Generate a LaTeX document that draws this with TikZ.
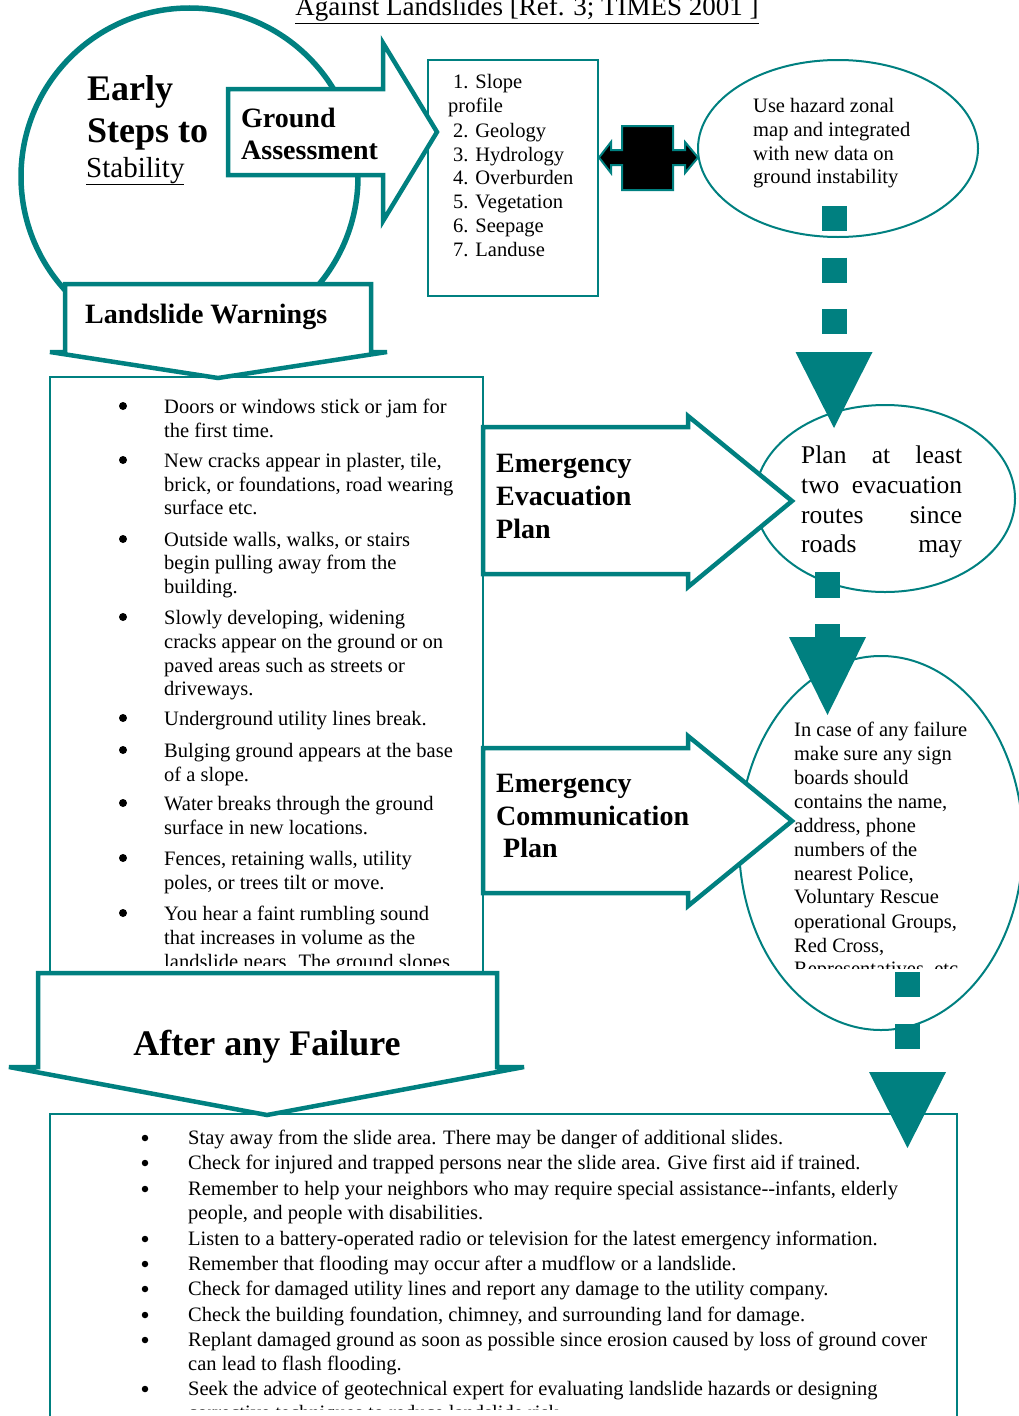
\documentclass[tikz,border=0pt]{standalone}
\usepackage{fontspec}
\setmainfont{Liberation Serif}
\usetikzlibrary{shapes.geometric,arrows.meta}
\definecolor{tealc}{RGB}{0,128,128}
\newcommand\fsBody{\fontsize{20.5}{24}\selectfont}
\newcommand\fsHead{\fontsize{28}{33}\selectfont\bfseries}
\begin{document}
\begin{tikzpicture}[x=1pt,y=-1pt,
  blockarrow/.style={draw=tealc,line width=4.5pt,fill=white,line join=miter},
  thinbox/.style={draw=tealc,line width=2pt},
  oval/.style={ellipse,draw=tealc,line width=2pt,fill=white,inner sep=0pt},
  txt/.style={anchor=base west,inner sep=0pt,font=\fsBody},
  bul/.style={circle,fill=black,inner sep=0pt,minimum size=8pt},
  bulsmall/.style={circle,fill=black,inner sep=0pt,minimum size=6.5pt},
  head/.style={anchor=base west,inner sep=0pt,font=\fsHead},
  dashconn/.style={draw=tealc,line width=25pt,
     -{Triangle[width=77pt,length=76pt,line width=0pt]}}]
\useasboundingbox (0,0) rectangle (1018,1416);

% title
\node[anchor=base,inner sep=0pt] (title) at (527,16)
  {\fontsize{27}{30}\selectfont\underline{Against Landslides [Ref. 3; TIMES 2001 ]}};

% big circle
\node[circle,draw=tealc,line width=5.5pt,minimum size=337pt,inner sep=0pt] (big) at (189.5,176.5) {};
\node[anchor=base west,inner sep=0pt,font=\fontsize{36}{40}\selectfont\bfseries] (early) at (87,100) {Early};
\node[anchor=base west,inner sep=0pt,font=\fontsize{36}{40}\selectfont\bfseries] (steps) at (87,142) {Steps to};
\node[anchor=base west,inner sep=0pt,font=\fontsize{29}{32}\selectfont] (stab) at (86,177) {\underline{Stability}};

% factors box
\draw[thinbox] (428,60) rectangle (598,296);
\node[txt] (f1) at (453,88) {1. Slope};
\node[txt] (f1b) at (448,112) {profile};
\foreach \yv/\tv [count=\i] in {137/2. Geology,161/3. Hydrology,184/4. Overburden,208/5. Vegetation,232/6. Seepage,256/7. Landuse}
  \node[txt] (f\i x) at (453,\yv) {\tv};

% ground assessment arrow
\draw[blockarrow] (228,89) -- (383,89) -- (383,43) -- (437,132) -- (383,221) -- (383,175) -- (228,175) -- cycle;
\node[head] (ground) at (241,127) {Ground};
\node[head] (assess) at (241,159) {Assessment};

% landslide warnings shape
\draw[blockarrow] (65,284) -- (371,284) -- (371,352) -- (387,352) -- (218,378) -- (50,352) -- (65,352) -- cycle;
\node[head] (lw) at (85,323) {Landslide Warnings};

% warnings list
\draw[thinbox] (50,377) rectangle (483,1000);
\begin{scope}
\clip (50,377) rectangle (483,965);
\foreach \yv/\tv [count=\i] in {
 413/{Doors or windows stick or jam for},
 437/{the first time.},
 467/{New cracks appear in plaster, tile,},
 491/{brick, or foundations, road wearing},
 514/{surface etc.},
 546/{Outside walls, walks, or stairs},
 569/{begin pulling away from the},
 593/{building.},
 624/{Slowly developing, widening},
 648/{cracks appear on the ground or on},
 672/{paved areas such as streets or},
 695/{driveways.},
 725/{Underground utility lines break.},
 757/{Bulging ground appears at the base},
 781/{of a slope.},
 810/{Water breaks through the ground},
 834/{surface in new locations.},
 865/{Fences, retaining walls, utility},
 889/{poles, or trees tilt or move.},
 920/{You hear a faint rumbling sound},
 944/{that increases in volume as the},
 968/{landslide nears. The ground slopes}}
  \node[txt] (w\i) at (164,\yv) {\tv};
\foreach \yv [count=\i] in {413,467,546,624,725,757,810,865,920}
  \node[bul] (wb\i) at (123,\yv-7) {};
\end{scope}

% ellipse 1
\node[oval,minimum width=280pt,minimum height=177pt] (e1) at (838,148.5) {};
\foreach \yv/\tv [count=\i] in {112/Use hazard zonal,136/map and integrated,160/with new data on,183/ground instability}
  \node[txt] (e1t\i) at (753,\yv) {\tv};

% black double arrow
\draw[draw=tealc,line width=2pt,fill=black,line join=miter] (599,157.5) -- (611,142) -- (611,150) -- (622,150) -- (622,126) -- (673,126) -- (673,150) -- (685,150) -- (685,142) -- (698,157.5) -- (685,173) -- (685,165) -- (673,165) -- (673,190) -- (622,190) -- (622,165) -- (611,165) -- (611,173) -- cycle;
\node[inner sep=0pt] (dbl) at (648,157.5) {};

% ellipse 2
\node[oval,minimum width=260pt,minimum height=187pt] (e2) at (885,498.5) {};
\foreach \yv/\tv [count=\i] in {463/Plan at least,493/two evacuation,523/routes since,552/roads may}
  \node[anchor=base west,inner sep=0pt,font=\fontsize{25.5}{30}\selectfont] (e2t\i) at (801,\yv) {\makebox[161pt][s]{\tv}};

% ellipse 3
\node[oval,minimum width=284pt,minimum height=374pt] (e3) at (881,843) {};
\begin{scope}
\clip (780,700) rectangle (1018,968);
\foreach \yv/\tv [count=\i] in {736/{In case of any failure},760/{make sure any sign},784/{boards should},808/{contains the name,},832/{address, phone},856/{numbers of the},880/{nearest Police,},903/{Voluntary Rescue},928/{operational Groups,},952/{Red Cross,},975/{Representatives, etc}}
  \node[txt] (e3t\i) at (794,\yv) {\tv};
\end{scope}

% evacuation arrow
\draw[blockarrow] (483,427) -- (688,427) -- (688,416) -- (792,501) -- (688,587) -- (688,574) -- (483,574) -- cycle;
\node[head] (ev1) at (496,472) {Emergency};
\node[head] (ev2) at (496,505) {Evacuation};
\node[head] (ev3) at (496,538) {Plan};

% communication arrow
\draw[blockarrow] (483,748) -- (688,748) -- (688,736) -- (792,821) -- (688,906) -- (688,893) -- (483,893) -- cycle;
\node[head] (cm1) at (496,792) {Emergency};
\node[head] (cm2) at (496,825) {Communication};
\node[head] (cm3) at (503,857) {Plan};

% bottom box
\draw[thinbox] (50,1114) rectangle (957,1440);
\begin{scope}
\clip (50,1114) rectangle (957,1409);
\foreach \yv/\tv [count=\i] in {
 1144/{Stay away from the slide area. There may be danger of additional slides.},
 1169/{Check for injured and trapped persons near the slide area. Give first aid if trained.},
 1195/{Remember to help your neighbors who may require special assistance-{}-infants, elderly},
 1219/{people, and people with disabilities.},
 1245/{Listen to a battery-operated radio or television for the latest emergency information.},
 1270/{Remember that flooding may occur after a mudflow or a landslide.},
 1295/{Check for damaged utility lines and report any damage to the utility company.},
 1321/{Check the building foundation, chimney, and surrounding land for damage.},
 1346/{Replant damaged ground as soon as possible since erosion caused by loss of ground cover},
 1370/{can lead to flash flooding.},
 1395/{Seek the advice of geotechnical expert for evaluating landslide hazards or designing},
 1419/{corrective techniques to reduce landslide risk.}}
  \node[txt] (b\i) at (188,\yv) {\tv};
\foreach \yv [count=\i] in {1144,1169,1195,1245,1270,1295,1321,1346,1395}
  \node[bulsmall] (bb\i) at (145,\yv-6) {};
\end{scope}

% after any failure shape
\draw[blockarrow] (38,973) -- (497,973) -- (497,1067) -- (524,1067) -- (267,1115) -- (9,1067) -- (38,1067) -- cycle;
\node[anchor=base,inner sep=0pt,font=\fontsize{36}{40}\selectfont\bfseries] (after) at (267,1055) {After any Failure};

% dashed connectors
\coordinate (c1s) at (834,206);
\coordinate (c1e) at (834,428);
\draw[dashconn,dash pattern=on 25pt off 26.5pt] (c1s) -- (c1e);
\coordinate (c2s) at (827.5,572);
\coordinate (c2e) at (827.5,715);
\draw[dashconn,dash pattern=on 26pt off 26pt,-{Triangle[width=77pt,length=78pt,line width=0pt]}] (c2s) -- (c2e);
\coordinate (c3s) at (907.5,972);
\coordinate (c3e) at (907.5,1148);
\draw[dashconn,dash pattern=on 25pt off 27pt] (c3s) -- (c3e);
\end{tikzpicture}
\end{document}
